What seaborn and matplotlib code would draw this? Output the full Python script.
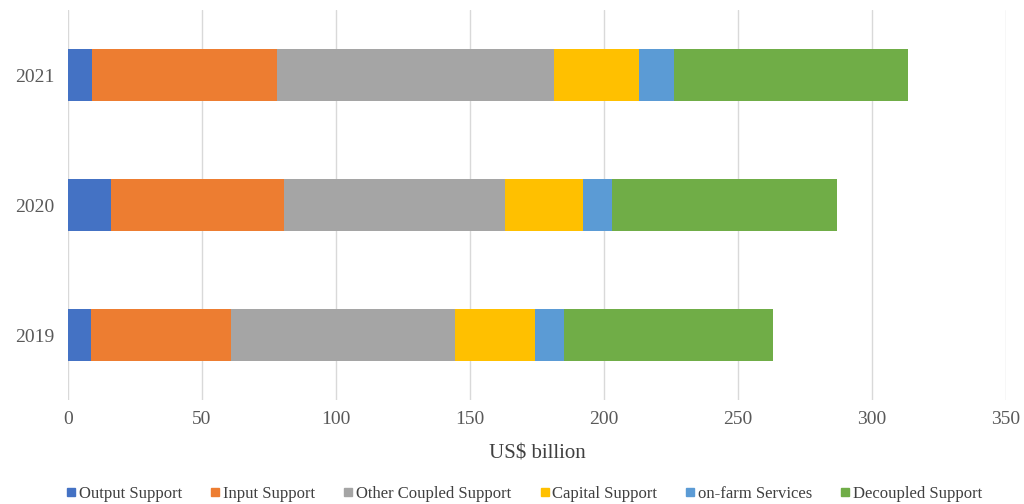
import numpy as np
import pandas as pd
import matplotlib
import matplotlib.pyplot as plt
import seaborn as sns
from matplotlib.lines import Line2D

matplotlib.use('Agg')

years = ['2021', '2020', '2019']
categories = ['Output Support', 'Input Support', 'Other Coupled Support',
              'Capital Support', 'on-farm Services', 'Decoupled Support']
output_support = [9.0, 15.9, 8.4]
input_support = [69.0, 64.6, 52.6]
other_coupled = [103.3, 82.5, 83.3]
capital_support = [31.9, 29.0, 30.1]
onfarm_services = [13.1, 11.1, 10.6]
decoupled_support = [87.0, 83.9, 78.1]
colors = ['#4472C4', '#ED7D31', '#A5A5A5', '#FFC000', '#5B9BD5', '#70AD47']

series = [output_support, input_support, other_coupled,
          capital_support, onfarm_services, decoupled_support]

df = pd.DataFrame({'Year': years})
for name, vals in zip(categories, series):
    df[name] = vals
# running totals so each segment can be drawn as a bar from zero
cum = df[categories].cumsum(axis=1)
cum['Year'] = years

sns.set_style('white')
plt.rcParams['font.family'] = ['Liberation Serif', 'DejaVu Serif']

fig = plt.figure(figsize=(10.24, 5.04), dpi=100)
ax = fig.add_axes([0.0664, 0.2063, 0.916, 0.7738])

for name, c in reversed(list(zip(categories, colors))):
    sns.barplot(data=cum, x=name, y='Year', order=years, color=c,
                width=0.4, orient='h', ax=ax, saturation=1, zorder=2,
                linewidth=0)

ax.set_xlim(0, 350)
ax.set_ylim(2.5, -0.5)
ax.set_xticks(np.arange(0, 351, 50))
ax.grid(axis='x', color='#d9d9d9', linewidth=1, zorder=0)
ax.set_axisbelow(True)
for s in ax.spines.values():
    s.set_visible(False)
ax.tick_params(axis='both', length=0, labelsize=14, colors='#595959', pad=8)
ax.tick_params(axis='y', pad=10)
ax.set_ylabel('')
ax.set_xlabel('US$ billion', fontsize=15, color='#404040', labelpad=12)

handles = [Line2D([0], [0], marker='s', linestyle='', markersize=6,
                  markerfacecolor=c, markeredgecolor=c) for c in colors]
fig.legend(handles, categories, loc='lower center', bbox_to_anchor=(0.512, -0.026),
           ncol=6, frameon=False, fontsize=12, handletextpad=0.15,
           handlelength=0.6, columnspacing=1.7, labelcolor='#404040')

fig.savefig('out.png', dpi=100)
